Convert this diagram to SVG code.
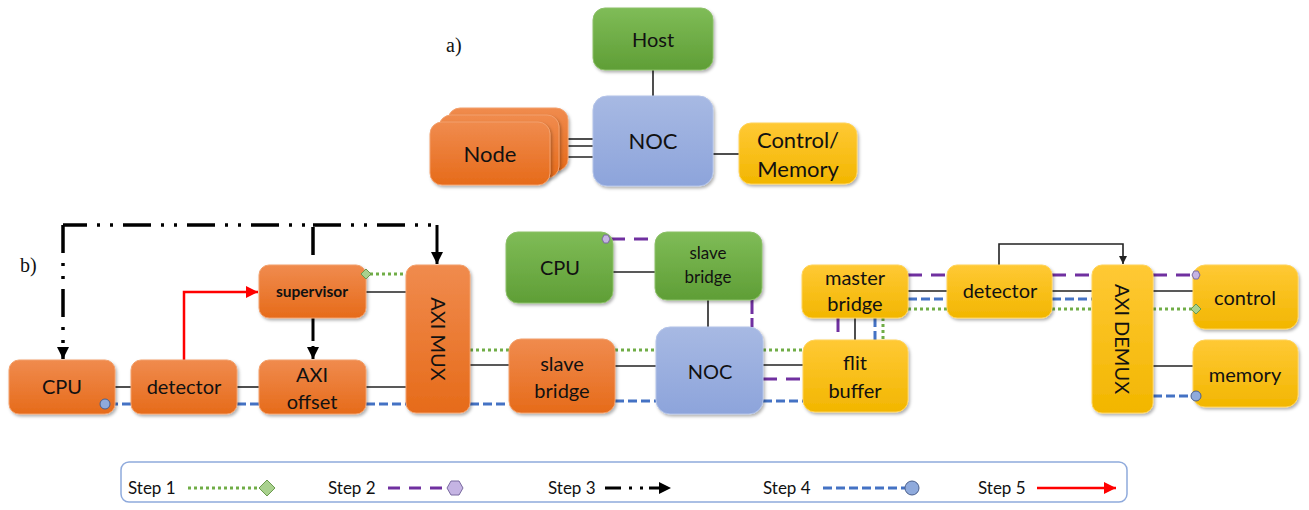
<svg xmlns="http://www.w3.org/2000/svg" width="1309" height="510" viewBox="0 0 1309 510">
<style>
text{font-family:Lato,"Open Sans","Liberation Sans",sans-serif;fill:#111;text-anchor:middle}
.lbl{font-size:20px}
.big{font-size:22px}
.leg{font-size:17px;text-anchor:start}
.ser{font-family:"Liberation Serif",serif;font-size:20px;text-anchor:start}
.or{fill:url(#gOr);stroke:#f2a06c;stroke-width:1;filter:url(#sh)}
.gr{fill:url(#gGr);stroke:#8cc068;stroke-width:1;filter:url(#sh)}
.bl{fill:url(#gBl);stroke:#b3c3e8;stroke-width:1;filter:url(#sh)}
.ye{fill:url(#gYe);stroke:#ffd35a;stroke-width:1;filter:url(#sh)}
.ln{stroke:#222;stroke-width:1.6;fill:none}
.s1{stroke:#70ad47;stroke-width:3;stroke-dasharray:3 3;fill:none}
.s2{stroke:#7030a0;stroke-width:3;stroke-dasharray:14 9;fill:none}
.s3{stroke:#000;stroke-width:3.5;stroke-dasharray:28 10 3 10 3 10;fill:none}
.s4{stroke:#4472c4;stroke-width:3;stroke-dasharray:9 4;fill:none}
.s5{stroke:#ff0000;stroke-width:2.5;fill:none}
.dia{fill:#a9d18e;stroke:#6b9a4e;stroke-width:1}
.hex{fill:#c5b4e3;stroke:#7a6aa0;stroke-width:1}
.cir{fill:#8faadc;stroke:#4a5f8c;stroke-width:1}
</style>
<defs>
<linearGradient id="gOr" x1="0" y1="0" x2="0" y2="1"><stop offset="0" stop-color="#f08b4e"/><stop offset="1" stop-color="#e66b1a"/></linearGradient>
<linearGradient id="gGr" x1="0" y1="0" x2="0" y2="1"><stop offset="0" stop-color="#7fbc57"/><stop offset="1" stop-color="#5f9e36"/></linearGradient>
<linearGradient id="gBl" x1="0" y1="0" x2="0" y2="1"><stop offset="0" stop-color="#a7b9e3"/><stop offset="1" stop-color="#8da4db"/></linearGradient>
<linearGradient id="gYe" x1="0" y1="0" x2="0" y2="1"><stop offset="0" stop-color="#ffc935"/><stop offset="1" stop-color="#f2b600"/></linearGradient>
<filter id="sh" x="-10%" y="-10%" width="130%" height="130%"><feDropShadow dx="1.5" dy="2" stdDeviation="1.5" flood-color="#000" flood-opacity="0.3"/></filter>
<marker id="ak" markerUnits="userSpaceOnUse" markerWidth="14" markerHeight="12" refX="12" refY="6" orient="auto"><path d="M0,0 L12,6 L0,12 Z" fill="#000"/></marker>
<marker id="aks" markerUnits="userSpaceOnUse" markerWidth="10" markerHeight="8" refX="8" refY="4" orient="auto"><path d="M0,0 L8,4 L0,8 Z" fill="#222"/></marker>
<marker id="ar" markerUnits="userSpaceOnUse" markerWidth="14" markerHeight="12" refX="12" refY="6" orient="auto"><path d="M0,0 L12,6 L0,12 Z" fill="#ff0000"/></marker>
</defs>

<text class="ser" x="446" y="52">a)</text>
<text class="ser" x="20" y="272">b)</text>

<g id="connectors">
  <line class="ln" x1="653" y1="70" x2="653" y2="96"/>
  <line class="ln" x1="568" y1="139" x2="593" y2="139"/>
  <line class="ln" x1="559" y1="146" x2="593" y2="146"/>
  <line class="ln" x1="550" y1="157" x2="593" y2="157"/>
  <line class="ln" x1="713" y1="154" x2="739" y2="154"/>
  <line class="ln" x1="115" y1="387" x2="131" y2="387"/>
  <line class="ln" x1="237" y1="387" x2="259" y2="387"/>
  <line class="ln" x1="366" y1="387" x2="406" y2="387"/>
  <line class="ln" x1="366" y1="292" x2="406" y2="292"/>
  <line class="ln" x1="470" y1="365" x2="509" y2="365"/>
  <line class="ln" x1="615" y1="366" x2="656" y2="366"/>
  <line class="ln" x1="763" y1="365" x2="803" y2="365"/>
  <line class="ln" x1="613" y1="272" x2="655" y2="272"/>
  <line class="ln" x1="708" y1="300" x2="708" y2="327"/>
  <line class="ln" x1="855" y1="318" x2="855" y2="340"/>
  <line class="ln" x1="908" y1="291" x2="947" y2="291"/>
  <line class="ln" x1="1052" y1="291" x2="1092" y2="291"/>
  <line class="ln" x1="1153" y1="291" x2="1193" y2="291"/>
  <line class="ln" x1="1153" y1="366" x2="1193" y2="366"/>
  <path class="ln" d="M999,265 V244 H1123 V264" marker-end="url(#aks)"/>
  <path class="s5" d="M184,360 V292 H258" marker-end="url(#ar)"/>
  <path class="s3" d="M313,255 V225 H63"/>
  <path class="s3" d="M63,225 V359" marker-end="url(#ak)"/>
  <path class="s3" d="M313,225 H437"/>
  <path d="M437,225 V264" stroke="#000" stroke-width="3" fill="none" marker-end="url(#ak)"/>
  <path d="M313,318 V341" stroke="#000" stroke-width="3" fill="none"/>
  <path d="M313,346 V359" stroke="#000" stroke-width="3" fill="none" marker-end="url(#ak)"/>
  <line class="s1" x1="370" y1="274" x2="406" y2="274"/>
  <line class="s1" x1="470" y1="350" x2="509" y2="350"/>
  <line class="s1" x1="615" y1="350" x2="656" y2="350"/>
  <line class="s1" x1="763" y1="350" x2="803" y2="350"/>
  <line class="s1" x1="883" y1="318" x2="883" y2="340"/>
  <line class="s1" x1="908" y1="309" x2="947" y2="309"/>
  <line class="s1" x1="1052" y1="309" x2="1092" y2="309"/>
  <line class="s1" x1="1153" y1="309" x2="1192" y2="309"/>
  <line class="s2" x1="611" y1="239" x2="655" y2="239"/>
  <line class="s2" x1="752" y1="300" x2="752" y2="327" style="stroke-dasharray:14 4"/>
  <line class="s2" x1="763" y1="379" x2="803" y2="379"/>
  <line class="s2" x1="838" y1="318" x2="838" y2="340" style="stroke-dasharray:14 8"/>
  <line class="s2" x1="908" y1="275" x2="947" y2="275"/>
  <line class="s2" x1="1052" y1="275" x2="1092" y2="275"/>
  <line class="s2" x1="1153" y1="275" x2="1192" y2="275"/>
  <line class="s4" x1="109" y1="404" x2="131" y2="404"/>
  <line class="s4" x1="237" y1="404" x2="259" y2="404"/>
  <line class="s4" x1="366" y1="404" x2="406" y2="404"/>
  <line class="s4" x1="470" y1="404" x2="509" y2="404"/>
  <line class="s4" x1="615" y1="401" x2="656" y2="401"/>
  <line class="s4" x1="763" y1="401" x2="803" y2="401"/>
  <line class="s4" x1="875" y1="318" x2="875" y2="340"/>
  <line class="s4" x1="908" y1="299" x2="947" y2="299"/>
  <line class="s4" x1="1052" y1="299" x2="1092" y2="299"/>
  <line class="s4" x1="1153" y1="396" x2="1192" y2="396"/>
</g>

<g id="host"><rect class="gr" x="593" y="8" width="120" height="62" rx="12"/><text class="lbl" x="653" y="47">Host</text></g>
<g id="noc-a"><rect class="bl" x="593" y="96" width="120" height="90" rx="14"/><text class="big" x="653" y="149">NOC</text></g>
<g id="node-a">
  <rect class="or" x="448" y="108" width="120" height="63" rx="12"/>
  <rect class="or" x="439" y="115" width="120" height="63" rx="12"/>
  <rect class="or" x="430" y="122" width="120" height="63" rx="12"/>
  <text class="big" x="490" y="162">Node</text>
</g>
<g id="ctrlmem-a"><rect class="ye" x="739" y="123" width="118" height="61" rx="12"/><text class="big" x="798" y="148">Control/</text><text class="big" x="798" y="177">Memory</text></g>

<g id="cpu"><rect class="or" x="9" y="360" width="106" height="54" rx="10"/><text class="lbl" x="62" y="394">CPU</text></g>
<g id="detector1"><rect class="or" x="131" y="360" width="106" height="54" rx="10"/><text class="lbl" x="184" y="394">detector</text></g>
<g id="axioffset"><rect class="or" x="259" y="360" width="107" height="54" rx="10"/><text class="lbl" x="312" y="382">AXI</text><text class="lbl" x="312" y="409">offset</text></g>
<g id="supervisor"><rect class="or" x="259" y="265" width="107" height="53" rx="10"/><text x="312" y="297" style="font-size:15.5px;font-weight:bold">supervisor</text></g>
<g id="aximux"><rect class="or" x="406" y="265" width="64" height="148" rx="10"/><text class="lbl" transform="translate(438,339) rotate(90)" x="0" y="7">AXI MUX</text></g>
<g id="slavebridge1"><rect class="or" x="509" y="339" width="106" height="74" rx="12"/><text class="lbl" x="562" y="371">slave</text><text class="lbl" x="562" y="398">bridge</text></g>
<g id="cpu2"><rect class="gr" x="506" y="232" width="107" height="71" rx="12"/><text class="lbl" x="560" y="275">CPU</text></g>
<g id="slavebridge2"><rect class="gr" x="655" y="232" width="107" height="68" rx="12"/><text x="708" y="259" style="font-size:17px">slave</text><text x="708" y="283" style="font-size:17px">bridge</text></g>
<g id="noc-b"><rect class="bl" x="656" y="327" width="107" height="87" rx="14"/><text class="lbl" x="710" y="379">NOC</text></g>
<g id="masterbridge"><rect class="ye" x="802" y="265" width="106" height="53" rx="10"/><text class="lbl" x="855" y="285">master</text><text class="lbl" x="855" y="311">bridge</text></g>
<g id="flitbuffer"><rect class="ye" x="803" y="340" width="105" height="72" rx="12"/><text class="lbl" x="855" y="370">flit</text><text class="lbl" x="855" y="398">buffer</text></g>
<g id="detector2"><rect class="ye" x="947" y="265" width="105" height="53" rx="10"/><text class="lbl" x="1000" y="298">detector</text></g>
<g id="axidemux"><rect class="ye" x="1092" y="265" width="61" height="148" rx="10"/><text class="lbl" transform="translate(1122,339) rotate(90)" x="0" y="7">AXI DEMUX</text></g>
<g id="control"><rect class="ye" x="1193" y="265" width="105" height="64" rx="12"/><text class="lbl" x="1245" y="305">control</text></g>
<g id="memory"><rect class="ye" x="1193" y="340" width="105" height="67" rx="12"/><text class="lbl" x="1245" y="382">memory</text></g>

<g id="endpoints">
  <path class="dia" d="M366,269 L371,274 L366,279 L361,274 Z"/>
  <path class="hex" d="M602,239 L604,235 L608,235 L610,239 L608,243 L604,243 Z"/>
  <circle class="cir" cx="105" cy="404" r="5"/>
  <path class="hex" d="M1192,275 L1194,271 L1198,271 L1200,275 L1198,279 L1194,279 Z"/>
  <path class="dia" d="M1196,304 L1201,309 L1196,314 L1191,309 Z"/>
  <circle class="cir" cx="1196" cy="396" r="5"/>
</g>

<g id="legend">
  <rect x="121" y="462" width="1006" height="40" rx="8" fill="#fff" stroke="#8faadc" stroke-width="1.5"/>
  <text class="leg" x="128" y="494">Step 1</text>
  <line class="s1" x1="188" y1="488" x2="259" y2="488"/>
  <path class="dia" d="M267,480 L275,488 L267,496 L259,488 Z"/>
  <text class="leg" x="328" y="494">Step 2</text>
  <line class="s2" x1="388" y1="488" x2="448" y2="488" style="stroke-dasharray:12 9"/>
  <path class="hex" d="M447,488 L451,481 L459,481 L463,488 L459,495 L451,495 Z"/>
  <text class="leg" x="548" y="494">Step 3</text>
  <path class="s3" d="M605,488 H671" marker-end="url(#ak)" style="stroke-dasharray:16 8 3 8 3 6;stroke-width:3"/>
  <text class="leg" x="763" y="494">Step 4</text>
  <line class="s4" x1="823" y1="488" x2="905" y2="488"/>
  <circle class="cir" cx="912" cy="488" r="7"/>
  <text class="leg" x="978" y="494">Step 5</text>
  <line class="s5" x1="1037" y1="488" x2="1116" y2="488" marker-end="url(#ar)"/>
</g>
</svg>
